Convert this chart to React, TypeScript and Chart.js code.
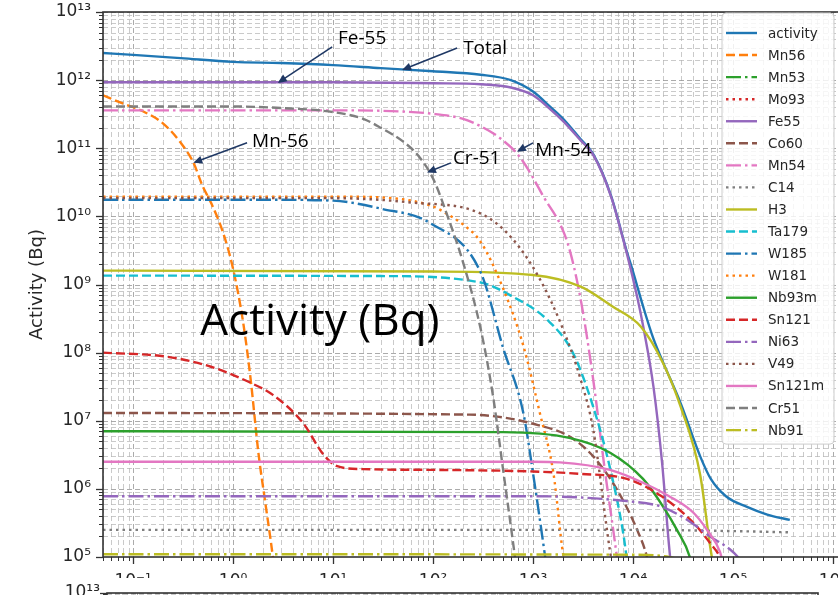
import React, { useEffect, useRef } from 'react';
import { Chart, registerables } from 'chart.js';

Chart.register(...registerables);

// ---------------- data (time, activity in Bq) ----------------
const SERIES_LABELS = [
  'activity', 'Mn56', 'Mn53', 'Mo93', 'Fe55', 'Co60', 'Mn54', 'C14', 'H3', 'Ta179',
  'W185', 'W181', 'Nb93m', 'Sn121', 'Ni63', 'V49', 'Sn121m', 'Cr51', 'Nb91',
];

const ACTIVITY: [number, number][] = [
  [0.05, 2.5e12], [0.1, 2.35e12], [0.3, 2.1e12], [1, 1.85e12], [3, 1.78e12], [10, 1.66e12],
  [30, 1.5e12], [100, 1.35e12], [300, 1.2e12], [600, 1.0e12], [1000, 6.8e11], [1500, 4.0e11],
  [2000, 2.7e11], [3000, 1.35e11], [4000, 8.2e10], [6000, 2.05e10], [8700, 3.0e9], [1.0e4, 1.55e9],
  [1.26e4, 4.8e8], [1.6e4, 1.6e8], [2.0e4, 7.2e7], [3.0e4, 1.8e7], [4.7e4, 3.0e6],
  [6.0e4, 1.4e6], [8.5e4, 7.8e5], [1.4e5, 5.4e5], [2.2e5, 4.2e5], [3.7e5, 3.5e5],
];
const MN56: [number, number][] = [
  [0.05, 6.0e11], [0.08, 4.5e11], [0.12, 3.6e11], [0.2, 2.3e11], [0.3, 1.2e11], [0.4, 6.2e10],
  [0.5, 2.7e10], [0.6, 1.6e10], [0.8, 5.6e9], [1.0, 1.7e9], [1.26, 2.8e8], [1.5, 4.0e7],
  [1.8, 3.2e6], [2.1, 6.3e5], [2.5, 1.0e5], [2.6, 6e4],
];
const MN53: [number, number][] = [];
const MO93: [number, number][] = [];
const FE55: [number, number][] = [
  [0.05, 9.3e11], [10, 9.3e11], [100, 9.0e11], [300, 8.7e11], [600, 7.8e11], [1000, 6.0e11],
  [1500, 3.7e11], [2000, 2.5e11], [3000, 1.3e11], [4000, 8.0e10], [6000, 2.0e10], [8700, 2.8e9],
  [1.1e4, 6.6e8], [1.26e4, 2.5e8], [1.6e4, 3.2e7], [1.95e4, 2.5e6], [2.35e4, 1.0e5], [2.5e4, 5e4],
];
const CO60: [number, number][] = [
  [0.05, 1.3e7], [230, 1.23e7], [500, 1.12e7], [1100, 8.7e6], [2300, 5.9e6], [4000, 3.0e6],
  [6900, 9.8e5], [1.1e4, 2.5e5], [1.38e4, 1.0e5], [1.45e4, 7e4],
];
const MN54: [number, number][] = [
  [0.05, 3.6e11], [10, 3.6e11], [30, 3.55e11], [100, 3.2e11], [200, 2.7e11], [300, 2.1e11],
  [470, 1.4e11], [740, 7.4e10], [1260, 2.0e10], [2200, 4.2e9], [3000, 6.0e8], [4000, 4.0e7],
  [5200, 2.0e6], [6900, 1.0e5], [7200, 6e4],
];
const C14: [number, number][] = [
  [0.05, 2.5e5], [1e4, 2.5e5], [1e5, 2.4e5], [3.7e5, 2.3e5],
];
const H3: [number, number][] = [
  [0.05, 1.6e9], [100, 1.55e9], [1000, 1.38e9], [3000, 9.3e8], [6300, 4.7e8], [1.2e4, 2.4e8],
  [2.0e4, 7.0e7], [3.0e4, 1.6e7], [4.7e4, 1.6e6], [5.9e4, 1.45e5], [6.3e4, 8e4],
];
const TA179: [number, number][] = [
  [0.05, 1.35e9], [30, 1.33e9], [300, 1.07e9], [630, 6.6e8], [1400, 3.0e8], [2500, 1.0e8],
  [4000, 1.6e7], [5900, 2.0e6], [8000, 2.2e5], [8700, 9e4],
];
const W185: [number, number][] = [
  [0.05, 1.75e10], [3, 1.75e10], [10, 1.7e10], [30, 1.3e10], [93, 8.0e9], [300, 1.5e9],
  [500, 1.2e8], [800, 1.3e7], [1000, 1.7e6], [1300, 1.2e5], [1350, 8e4],
];
const W181: [number, number][] = [
  [0.05, 1.95e10], [10, 1.95e10], [30, 1.9e10], [100, 1.4e10], [140, 1.07e10], [200, 7.6e9],
  [300, 4.2e9], [500, 8.9e8], [800, 1.26e8], [1170, 1.3e7], [1600, 1.7e6], [2000, 1.1e5],
  [2100, 8e4],
];
const NB93M: [number, number][] = [
  [0.05, 7.0e6], [500, 6.8e6], [2300, 5.6e6], [5900, 3.4e6], [1.26e4, 1.4e6], [2.0e4, 5.5e5],
  [2.75e4, 2.5e5], [3.7e4, 1.0e5], [3.9e4, 7e4],
];
const SN121: [number, number][] = [
  [0.05, 1.0e8], [0.22, 8.7e7], [0.6, 6.2e7], [1.5, 3.6e7], [2.5, 2.4e7], [5, 9.3e6], [8, 3.2e6],
  [11, 2.15e6], [20, 1.95e6], [100, 1.9e6], [1000, 1.8e6], [3000, 1.66e6], [8700, 1.4e6],
  [1.9e4, 7.9e5], [4.0e4, 3.2e5], [5.9e4, 1.6e5], [7.4e4, 1.0e5], [7.8e4, 8e4],
];
const NI63: [number, number][] = [
  [0.05, 7.8e5], [1000, 7.8e5], [8700, 6.6e5], [1.9e4, 5.5e5], [3.5e4, 3.5e5], [5.9e4, 2.0e5],
  [9.3e4, 1.3e5], [1.12e5, 1.0e5], [1.18e5, 9e4],
];
const V49: [number, number][] = [
  [0.05, 1.85e10], [10, 1.85e10], [60, 1.6e10], [300, 1.1e10], [630, 4.6e9], [1170, 1.2e9],
  [2000, 2.2e8], [3000, 4.0e7], [4000, 7.4e6], [5900, 1.2e5], [6200, 8e4],
];
const SN121M: [number, number][] = [
  [0.05, 2.5e6], [1000, 2.5e6], [1860, 2.45e6], [5900, 1.9e6], [1.26e4, 1.23e6], [2.3e4, 7.8e5],
  [4.0e4, 4.5e5], [5.5e4, 2.5e5], [7.4e4, 1.2e5], [7.8e4, 9e4],
];
const CR51: [number, number][] = [
  [0.05, 4.1e11], [1, 4.1e11], [3, 3.9e11], [10, 3.4e11], [20, 2.7e11], [30, 2.0e11],
  [50, 1.26e11], [70, 8.0e10], [100, 3.6e10], [140, 1.0e10], [200, 2.1e9], [300, 2.2e8],
  [400, 2.2e7], [500, 2.0e6], [660, 1.0e5], [690, 6e4],
];
const NB91: [number, number][] = [
  [0.05, 1.1e5], [1e4, 1.08e5], [2.3e4, 1.0e5], [3.0e4, 9e4],
];

const SERIES_DATA = [
  ACTIVITY, MN56, MN53, MO93, FE55, CO60, MN54, C14, H3, TA179,
  W185, W181, NB93M, SN121, NI63, V49, SN121M, CR51, NB91,
];

// axis ranges and decade ticks
const X_RANGE = [0.05, 1.26e6];
const Y_RANGE = [1e5, 1e13];
const LOWER_X_RANGE = [0.05, 6.5e5];
const X_DECADES = [-2, -1, 0, 1, 2, 3, 4, 5, 6];
const Y_DECADES = [5, 6, 7, 8, 9, 10, 11, 12, 13];
const Y_TITLE = 'Activity (Bq)';

// annotations (data coordinates: [time, activity])
const ANNOTATIONS = [
  { text: 'Fe-55', label: [11.2, 4.3e12], tail: [9.8, 3.07e12], head: [2.8, 9.1e11] },
  { text: 'Total', label: [200, 3.0e12], tail: [174, 2.97e12], head: [49, 1.41e12] },
  { text: 'Mn-56', label: [1.55, 1.33e11], tail: [1.38, 1.2e11], head: [0.4, 6.1e10] },
  { text: 'Cr-51', label: [158, 7.5e10], tail: [151, 6.1e10], head: [87, 4.4e10] },
  { text: 'Mn-54', label: [1050, 9.8e10], tail: [1000, 1.2e11], head: [690, 8.9e10] },
];
const PANEL_LABEL = { text: 'Activity (Bq)', label: [0.47, 3.05e8] };

// ---------------- styling ----------------
const TAB10 = ['#1f77b4', '#ff7f0e', '#2ca02c', '#d62728', '#9467bd', '#8c564b', '#e377c2', '#7f7f7f', '#bcbd22', '#17becf'];
const DASHES: number[][] = [[], [9, 4], [15, 4, 2.5, 4], [2.5, 4]];
const LINE_W = 2.4;
const TEXT = '#262626';
const GRID_MAJOR = 'rgba(150,150,150,0.8)';
const GRID_MINOR = 'rgba(180,180,180,0.7)';
const ARROW = '#1f3864';
const SUP: Record<string, string> = { '0': '⁰', '1': '¹', '2': '²', '3': '³', '4': '⁴', '5': '⁵', '6': '⁶', '7': '⁷', '8': '⁸', '9': '⁹', '-': '⁻' };

function isDecade(v: number) {
  const l = Math.log10(v);
  return Math.abs(l - Math.round(l)) < 1e-7;
}
function powLabel(v: number) {
  const e = String(Math.round(Math.log10(v)));
  return '10' + e.split('').map((c) => SUP[c] || c).join('');
}
function logTicks(decades: number[], min: number, max: number) {
  const out: any[] = [];
  for (const d of decades) {
    for (let k = 1; k <= 9; k++) {
      const v = k * Math.pow(10, d);
      if (v >= min * (1 - 1e-9) && v <= max * (1 + 1e-9)) out.push({ value: v, major: k === 1 });
    }
  }
  return out;
}

function drawArrow(ctx: CanvasRenderingContext2D, x1: number, y1: number, x2: number, y2: number) {
  const ang = Math.atan2(y2 - y1, x2 - x1);
  const L = 9, W = 4;
  const c = Math.cos(ang), s = Math.sin(ang);
  ctx.beginPath();
  ctx.moveTo(x1, y1);
  ctx.lineTo(x2 - L * 0.8 * c, y2 - L * 0.8 * s);
  ctx.stroke();
  ctx.beginPath();
  ctx.moveTo(x2, y2);
  ctx.lineTo(x2 - L * c + W * s, y2 - L * s - W * c);
  ctx.lineTo(x2 - L * c - W * s, y2 - L * s + W * c);
  ctx.closePath();
  ctx.fill();
}

const mplPlugin = {
  id: 'mpl',
  beforeDatasetsDraw(chart: any) {
    const { ctx, chartArea: a, scales } = chart;
    ctx.save();
    ctx.beginPath();
    ctx.rect(a.left, a.top, a.right - a.left, a.bottom - a.top);
    ctx.clip();
    ctx.lineWidth = 1;
    ctx.setLineDash([5, 3]);
    for (const t of scales.x.ticks) {
      const px = Math.round(scales.x.getPixelForValue(t.value)) + 0.5;
      ctx.strokeStyle = isDecade(t.value) ? GRID_MAJOR : GRID_MINOR;
      ctx.beginPath();
      ctx.moveTo(px, a.top);
      ctx.lineTo(px, a.bottom);
      ctx.stroke();
    }
    for (const t of scales.y.ticks) {
      const py = Math.round(scales.y.getPixelForValue(t.value)) + 0.5;
      ctx.strokeStyle = isDecade(t.value) ? GRID_MAJOR : GRID_MINOR;
      ctx.beginPath();
      ctx.moveTo(a.left, py);
      ctx.lineTo(a.right, py);
      ctx.stroke();
    }
    ctx.restore();
  },
  afterDatasetsDraw(chart: any) {
    const { ctx, chartArea: a, scales } = chart;
    ctx.save();
    ctx.setLineDash([]);
    ctx.strokeStyle = '#333';
    for (const t of scales.x.ticks) {
      const major = isDecade(t.value);
      const px = Math.round(scales.x.getPixelForValue(t.value)) + 0.5;
      ctx.lineWidth = major ? 1.3 : 1;
      ctx.beginPath();
      ctx.moveTo(px, a.bottom);
      ctx.lineTo(px, a.bottom + (major ? 7 : 4));
      ctx.stroke();
    }
    for (const t of scales.y.ticks) {
      const major = isDecade(t.value);
      const py = Math.round(scales.y.getPixelForValue(t.value)) + 0.5;
      ctx.lineWidth = major ? 1.3 : 1;
      ctx.beginPath();
      ctx.moveTo(a.left - (major ? 7 : 4), py);
      ctx.lineTo(a.left, py);
      ctx.stroke();
    }
    ctx.lineWidth = 1.6;
    ctx.strokeRect(a.left, a.top, a.right - a.left, a.bottom - a.top);
    ctx.restore();
  },
  afterDraw(chart: any, _args: any, opts: any) {
    const { ctx, chartArea: a, scales } = chart;
    if (opts && opts.legend) {
      const ds = chart.data.datasets;
      const right = a.right - 9;
      const top = a.top + 1;
      const left = right - 112;
      const rowH = 22.06;
      const bottom = top + 20 + (ds.length - 1) * rowH + 14;
      ctx.save();
      ctx.beginPath();
      const r = 4;
      ctx.moveTo(left + r, top);
      ctx.arcTo(right, top, right, bottom, r);
      ctx.arcTo(right, bottom, left, bottom, r);
      ctx.arcTo(left, bottom, left, top, r);
      ctx.arcTo(left, top, right, top, r);
      ctx.closePath();
      ctx.fillStyle = 'rgba(255,255,255,0.82)';
      ctx.fill();
      ctx.strokeStyle = '#cccccc';
      ctx.lineWidth = 1;
      ctx.stroke();
      ctx.font = '13.5px "DejaVu Sans"';
      ctx.textBaseline = 'middle';
      ctx.textAlign = 'left';
      ds.forEach((d: any, i: number) => {
        const y = top + 20 + i * rowH;
        ctx.strokeStyle = d.borderColor;
        ctx.lineWidth = LINE_W;
        ctx.lineCap = 'butt';
        ctx.setLineDash(d.borderDash || []);
        ctx.beginPath();
        ctx.moveTo(left + 4, y);
        ctx.lineTo(left + 35, y);
        ctx.stroke();
        ctx.setLineDash([]);
        ctx.fillStyle = TEXT;
        ctx.fillText(d.label, left + 46, y + 1);
      });
      ctx.restore();
    }
    if (opts && opts.notes) {
      const P = (p: number[]) => [scales.x.getPixelForValue(p[0]), scales.y.getPixelForValue(p[1])];
      ctx.save();
      ctx.textAlign = 'left';
      ctx.textBaseline = 'alphabetic';
      const size = 19;
      ctx.font = `${size}px "Open Sans"`;
      ctx.strokeStyle = ARROW;
      ctx.lineWidth = 1.6;
      for (const n of ANNOTATIONS) {
        const [lx, ly] = P(n.label);
        ctx.fillStyle = '#000';
        ctx.fillText(n.text, lx, ly + size * 0.357);
        const [x1, y1] = P(n.tail);
        const [x2, y2] = P(n.head);
        ctx.fillStyle = ARROW;
        drawArrow(ctx, x1, y1, x2, y2);
      }
      const big = 44;
      ctx.font = `${big}px "Open Sans"`;
      ctx.fillStyle = '#000';
      const [bx, by] = P(PANEL_LABEL.label);
      ctx.fillText(PANEL_LABEL.text, bx, by + big * 0.357);
      ctx.restore();
    }
  },
};

function makeConfig(kind: 'top' | 'low') {
  const top = kind === 'top';
  const xr = top ? X_RANGE : LOWER_X_RANGE;
  const tickFont = { family: 'DejaVu Sans', size: 17 };
  const datasets = top
    ? SERIES_LABELS.map((label, i) => ({
        label,
        data: SERIES_DATA[i].map(([t, v]) => ({ x: t, y: v })),
        borderColor: TAB10[i % 10],
        backgroundColor: TAB10[i % 10],
        borderWidth: LINE_W,
        borderDash: DASHES[i % 4],
        borderCapStyle: 'butt',
        pointRadius: 0,
        pointHoverRadius: 0,
        fill: false,
        cubicInterpolationMode: 'monotone',
        order: SERIES_LABELS.length - i,
      }))
    : [];
  return {
    type: 'line',
    data: { datasets },
    plugins: [mplPlugin],
    options: {
      animation: false,
      responsive: false,
      devicePixelRatio: 1,
      events: [],
      layout: { padding: top ? { top: 12, right: 7, left: 0, bottom: 0 } : { top: 13, right: 20, left: 0, bottom: 0 } },
      plugins: {
        legend: { display: false },
        tooltip: { enabled: false },
        mpl: { legend: top, notes: top },
      },
      scales: {
        x: {
          type: 'logarithmic',
          min: xr[0],
          max: xr[1],
          afterBuildTicks: (s: any) => { s.ticks = logTicks(X_DECADES, xr[0], xr[1]); },
          afterFit: (s: any) => { s.height = top ? 63 : 60; s.paddingLeft = 0; s.paddingRight = 0; },
          grid: { display: false, drawTicks: false },
          border: { display: false },
          ticks: {
            autoSkip: false, maxRotation: 0, minRotation: 0, padding: 14,
            font: tickFont, color: TEXT,
            callback: (v: any) => (isDecade(Number(v)) ? powLabel(Number(v)) : ''),
          },
        },
        y: {
          type: 'logarithmic',
          min: Y_RANGE[0],
          max: Y_RANGE[1],
          afterBuildTicks: (s: any) => { s.ticks = logTicks(Y_DECADES, Y_RANGE[0], Y_RANGE[1]); },
          afterFit: (s: any) => { s.width = top ? 103 : 107; s.paddingTop = 0; s.paddingBottom = 0; },
          grid: { display: false, drawTicks: false },
          border: { display: false },
          title: {
            display: top, text: Y_TITLE, color: TEXT,
            font: { family: 'DejaVu Sans', size: 18 }, padding: { top: 27, bottom: 0 },
          },
          ticks: {
            autoSkip: false, padding: top ? 12 : 7, font: tickFont, color: TEXT,
            callback: (v: any) => (isDecade(Number(v)) ? powLabel(Number(v)) : ''),
          },
        },
      },
    },
  } as any;
}

export default function App() {
  const topRef = useRef<HTMLCanvasElement>(null);
  const lowRef = useRef<HTMLCanvasElement>(null);
  useEffect(() => {
    const c1 = new Chart(topRef.current as HTMLCanvasElement, makeConfig('top'));
    const c2 = new Chart(lowRef.current as HTMLCanvasElement, makeConfig('low'));
    return () => {
      c1.destroy();
      c2.destroy();
    };
  }, []);
  return (
    <div style={{ position: 'fixed', left: 0, top: 0, width: 838, height: 595, overflow: 'hidden', background: '#fff' }}>
      <div style={{ position: 'absolute', left: 0, top: 0, width: 838, height: 578, overflow: 'hidden' }}>
        <canvas ref={topRef} width={850} height={620} style={{ display: 'block', width: 850, height: 620 }} />
      </div>
      <div style={{ position: 'absolute', left: 0, top: 580, width: 838, height: 15, overflow: 'hidden' }}>
        <canvas ref={lowRef} width={838} height={300} style={{ display: 'block', width: 838, height: 300 }} />
      </div>
    </div>
  );
}
